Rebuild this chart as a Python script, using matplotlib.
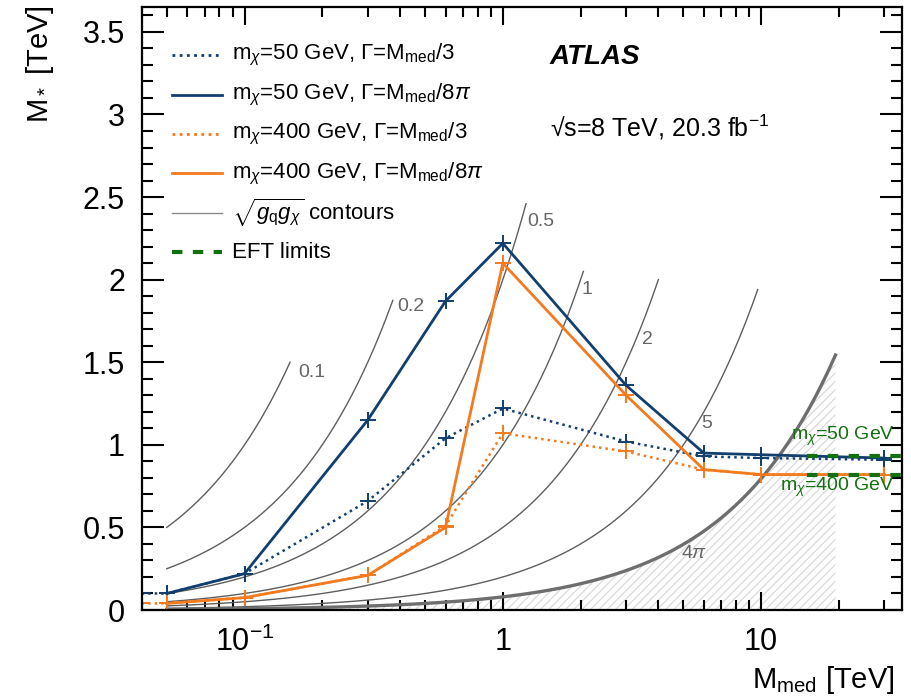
import numpy as np
import matplotlib
matplotlib.use("Agg")
import matplotlib.pyplot as plt
from matplotlib.ticker import MultipleLocator

plt.rcParams['font.family'] = ['Liberation Sans', 'DejaVu Sans']
plt.rcParams['mathtext.fontset'] = 'custom'
plt.rcParams['mathtext.rm'] = 'Liberation Sans'
plt.rcParams['mathtext.it'] = 'Liberation Sans:italic'
plt.rcParams['mathtext.bf'] = 'Liberation Sans:bold'
plt.rcParams['hatch.color'] = '#d6d6d6'
plt.rcParams['hatch.linewidth'] = 0.8

# mediator mass points [TeV]
m_med = [0.05, 0.1, 0.3, 0.6, 1, 3, 6, 10, 30]
m_med_dot = [0.04, 0.05, 0.1, 0.3, 0.6, 1, 3, 6, 10, 30]
# M* limits [TeV]
m50_wide = [0.10, 0.10, 0.22, 0.66, 1.04, 1.22, 1.02, 0.93, 0.92, 0.91]
m50_narrow = [0.10, 0.22, 1.15, 1.87, 2.22, 1.36, 0.95, 0.94, 0.92]
m400_wide = [0.04, 0.04, 0.075, 0.21, 0.51, 1.07, 0.96, 0.85, 0.82, 0.82]
m400_narrow = [0.04, 0.075, 0.21, 0.50, 2.10, 1.30, 0.85, 0.82, 0.82]

# sqrt(gq*gchi) contours: M* = M_med / g
contour_g = [0.1, 0.2, 0.5, 1, 2, 5, 4 * np.pi]
contour_xmax = [0.15, 0.375, 1.23, 2.05, 4.0, 9.7, 19.4]
contour_labels = ['0.1', '0.2', '0.5', '1', '2', '5', r'4$\pi$']
contour_lab_pos = [(0.162, 1.44), (0.39, 1.84), (1.24, 2.35), (2.02, 1.94),
                   (3.47, 1.64), (5.87, 1.13), (4.9, 0.345)]

# EFT limits
eft_x = [15, 35]
eft_50 = [0.93, 0.93]
eft_400 = [0.82, 0.82]

blue = '#123f6e'
orange = '#f47a1f'
green = '#13700f'
grey = '#5e5e5e'

fig = plt.figure(figsize=(9.12, 6.97), dpi=100)
ax = fig.add_axes([0.1554, 0.1248, 0.8333, 0.865])

# contours
for g, xm in zip(contour_g, contour_xmax):
    xs = np.geomspace(0.05, xm, 200)
    if g > 10:
        ax.fill_between(xs, 0, xs / g, facecolor='none', edgecolor='#d6d6d6',
                        hatch='////', linewidth=0)
        ax.plot(xs, xs / g, color='#6e6e6e', lw=2.4)
    else:
        ax.plot(xs, xs / g, color=grey, lw=1.0)
for lab, (lx, ly) in zip(contour_labels, contour_lab_pos):
    ax.text(lx, ly, lab, fontsize=14, color='#666666', ha='left', va='center')

ax.plot(m_med_dot, m50_wide, color=blue, lw=1.8, ls=(0, (1, 1.6)),
        marker='+', ms=11, mew=1.4)
ax.plot(m_med, m50_narrow, color=blue, lw=2.0, marker='+', ms=11, mew=1.4)
ax.plot(m_med_dot, m400_wide, color=orange, lw=1.8, ls=(0, (1, 1.6)),
        marker='+', ms=11, mew=1.4)
ax.plot(m_med, m400_narrow, color=orange, lw=2.0, marker='+', ms=11, mew=1.4)

ax.plot(eft_x, eft_50, color=green, lw=3, ls=(0, (2.5, 2.5)))
ax.plot(eft_x, eft_400, color=green, lw=3, ls=(0, (2.5, 2.5)))
ax.text(33, 1.05, r'm$_\chi$=50 GeV', color=green, fontsize=14,
        ha='right', va='center')
ax.text(33, 0.74, r'm$_\chi$=400 GeV', color=green, fontsize=14,
        ha='right', va='center')

ax.set_xscale('log')
ax.set_xlim(0.04, 35)
ax.set_ylim(0, 3.65)
ax.set_xticks([0.1, 1, 10], ['10$^{-1}$', '1', '10'])
ax.set_yticks([0, 0.5, 1, 1.5, 2, 2.5, 3, 3.5],
              ['0', '0.5', '1', '1.5', '2', '2.5', '3', '3.5'])
ax.yaxis.set_minor_locator(MultipleLocator(0.1))
ax.tick_params(which='both', direction='in', top=True, right=True,
               width=1.5, labelsize=22)
ax.tick_params(axis='x', which='major', length=13, pad=12)
ax.tick_params(axis='x', which='minor', length=7)
ax.tick_params(axis='y', which='major', length=16, pad=12)
ax.tick_params(axis='y', which='minor', length=8)
for s in ax.spines.values():
    s.set_linewidth(1.6)

ax.text(-0.134, 1.003, r'M$_*$ [TeV]', transform=ax.transAxes, rotation=90,
        ha='center', va='top', fontsize=21)
ax.text(0.991, -0.129, r'M$_{\rm med}$ [TeV]', transform=ax.transAxes,
        ha='right', va='baseline', fontsize=21)

# legend
leg_items = [
    (blue, (0, (1, 1.6)), r'm$_\chi$=50 GeV, $\Gamma$=M$_{\rm med}$/3'),
    (blue, '-', r'm$_\chi$=50 GeV, $\Gamma$=M$_{\rm med}$/8$\pi$'),
    (orange, (0, (1, 1.6)), r'm$_\chi$=400 GeV, $\Gamma$=M$_{\rm med}$/3'),
    (orange, '-', r'm$_\chi$=400 GeV, $\Gamma$=M$_{\rm med}$/8$\pi$'),
    ('#8a8a8a', '-', r'$\sqrt{g_{\rm q}g_\chi}$ contours'),
    (green, (0, (2.5, 2.5)), 'EFT limits'),
]
for i, (c, ls, lab) in enumerate(leg_items):
    yy = 0.920 - i * 0.0653
    lw = 3 if c == green else (1.0 if c == '#8a8a8a' else 2.0)
    ax.plot([0.040, 0.106], [yy, yy], color=c, ls=ls, lw=lw,
            transform=ax.transAxes)
    ax.text(0.119, yy, lab, transform=ax.transAxes, fontsize=16,
            ha='left', va='center')

ax.text(0.537, 0.917, 'ATLAS', transform=ax.transAxes, fontsize=20,
        fontweight='bold', fontstyle='italic', ha='left', va='center')
ax.text(0.537, 0.80, '\u221as=8 TeV, 20.3 fb$^{-1}$', transform=ax.transAxes,
        fontsize=18, ha='left', va='center')

fig.savefig('out.png', dpi=100)
